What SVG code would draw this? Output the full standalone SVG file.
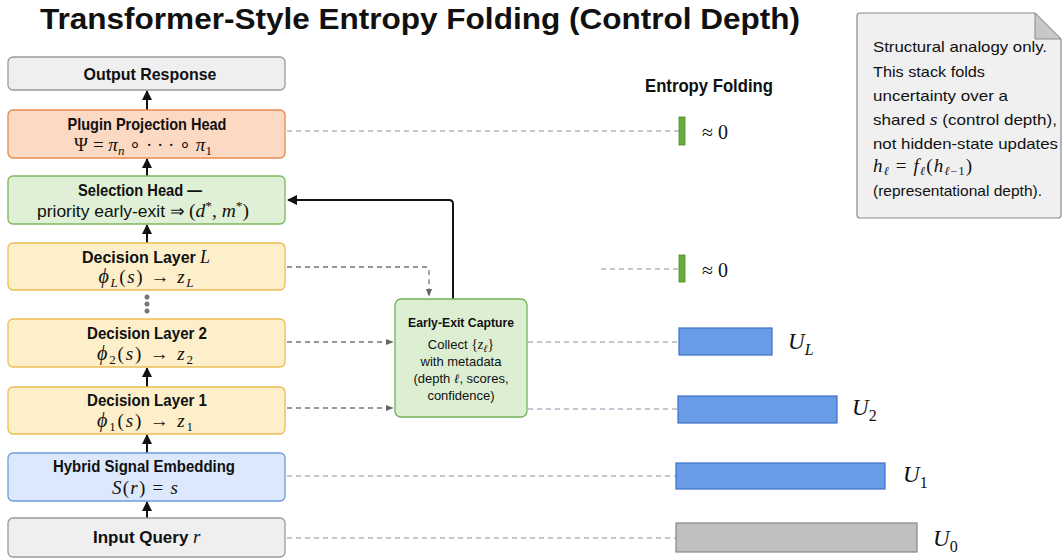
<svg xmlns="http://www.w3.org/2000/svg" width="1062" height="560" viewBox="0 0 1062 560">
<defs>
<style>
.lbl{font-family:"Liberation Sans",Arial,sans-serif;font-weight:bold;font-size:17px;fill:#111;text-anchor:middle}
.math{font-family:"Liberation Serif","Times New Roman",serif;font-size:19px;fill:#111;text-anchor:middle}
.it{font-style:italic}
.sub{font-size:13px}
.sm{font-family:"Liberation Sans",Arial,sans-serif;font-size:13px;fill:#111;text-anchor:middle}
.note{font-family:"Liberation Sans",Arial,sans-serif;font-size:14.5px;fill:#111}
.ulab{font-family:"Liberation Serif","Times New Roman",serif;font-size:23px;fill:#111;font-style:italic}
.gray{fill:#efefef;stroke:#9a9a9a;stroke-width:1.3}
.orange{fill:#fcd9c2;stroke:#e8894c;stroke-width:1.3}
.green{fill:#dff0d6;stroke:#7cb65e;stroke-width:1.3}
.yellow{fill:#fdefc9;stroke:#ecbd55;stroke-width:1.3}
.blue{fill:#dce8fb;stroke:#6f9be0;stroke-width:1.3}
.flow{stroke:#111;stroke-width:2;fill:none;marker-end:url(#ah)}
.dash{stroke:#777;stroke-width:1.3;fill:none;stroke-dasharray:5 4}
.dashb{stroke:#8a8fa6;stroke-width:1.2;fill:none;stroke-dasharray:5 4}
.gbar{fill:#6aaa3a;stroke:#4f8c2a;stroke-width:0.8}
.bbar{fill:#6a9be6;stroke:#3d6fc8;stroke-width:1.2}
.zbar{fill:#c0c0c0;stroke:#888;stroke-width:1.2}
</style>
<marker id="ah" viewBox="0 0 10 10" refX="9" refY="5" markerWidth="5" markerHeight="5" orient="auto"><path d="M0,0 L10,5 L0,10 Z" fill="#111"/></marker>
<marker id="ahg" viewBox="0 0 10 10" refX="9" refY="5" markerWidth="6" markerHeight="6" orient="auto"><path d="M0,1 L10,5 L0,9 Z" fill="#666"/></marker>
</defs>
<rect width="1062" height="560" fill="#fff"/>
<text x="40" y="29" font-family="Liberation Sans,Arial,sans-serif" font-weight="bold" font-size="30" fill="#111" textLength="760" lengthAdjust="spacingAndGlyphs">Transformer-Style Entropy Folding (Control Depth)</text>

<g id="connectors">
<line class="flow" x1="147" y1="110" x2="147" y2="91"/>
<line class="flow" x1="147" y1="176" x2="147" y2="159"/>
<line class="flow" x1="147" y1="243" x2="147" y2="225"/>
<line class="flow" x1="147" y1="387" x2="147" y2="368"/>
<line class="flow" x1="147" y1="453" x2="147" y2="435"/>
<line class="flow" x1="147" y1="518" x2="147" y2="502"/>
<path class="flow" d="M453,299 V204 Q453,200 449,200 H288"/>
<path class="dash" d="M287,267 H426 Q429,267 429,270 V296" marker-end="url(#ahg)"/>
<line class="dash" x1="287" y1="342" x2="393" y2="342" marker-end="url(#ahg)"/>
<line class="dash" x1="287" y1="408" x2="393" y2="408" marker-end="url(#ahg)"/>
<line class="dashb" x1="287" y1="131" x2="679" y2="131"/>
<line class="dashb" x1="601" y1="269" x2="679" y2="269"/>
<line class="dashb" x1="528" y1="342" x2="679" y2="342"/>
<line class="dashb" x1="528" y1="409" x2="678" y2="409"/>
<line class="dashb" x1="287" y1="476" x2="676" y2="476"/>
<line class="dashb" x1="287" y1="538" x2="676" y2="538"/>
</g>

<g id="output">
<rect class="gray" x="8" y="57" width="277" height="33" rx="5"/>
<text class="lbl" x="150" y="80" textLength="133" lengthAdjust="spacingAndGlyphs">Output Response</text>
</g>
<g id="plugin">
<rect class="orange" x="8" y="110" width="277" height="48" rx="5"/>
<text class="lbl" x="147" y="130" textLength="159" lengthAdjust="spacingAndGlyphs">Plugin Projection Head</text>
<text class="math" x="143" y="151" font-size="18">Ψ = <tspan class="it">π</tspan><tspan class="sub it" dy="4">n</tspan><tspan dy="-4"> ∘ · · · ∘ </tspan><tspan class="it">π</tspan><tspan class="sub" dy="4">1</tspan></text>
</g>
<g id="selection">
<rect class="green" x="8" y="176" width="277" height="48" rx="5"/>
<text class="lbl" x="140" y="196" textLength="124" lengthAdjust="spacingAndGlyphs">Selection Head —</text>
<text x="143" y="217" text-anchor="middle" font-size="17" fill="#111" textLength="212" lengthAdjust="spacingAndGlyphs"><tspan font-family="Liberation Sans,Arial,sans-serif">priority early-exit ⇒ </tspan><tspan font-family="Liberation Serif,serif" font-size="19"> (<tspan font-style="italic">d</tspan><tspan font-size="13" dy="-7">*</tspan><tspan dy="7">, </tspan><tspan font-style="italic">m</tspan><tspan font-size="13" dy="-7">*</tspan><tspan dy="7">)</tspan></tspan></text>
</g>
<g id="layerL">
<rect class="yellow" x="8" y="243" width="277" height="47" rx="5"/>
<text x="82" y="263" font-family="Liberation Sans,Arial,sans-serif" font-weight="bold" font-size="16" fill="#111">Decision Layer</text>
<text x="200" y="263" font-family="Liberation Serif,serif" font-style="italic" font-size="18" fill="#111">L</text>
<text class="math" x="146" y="283" textLength="95" lengthAdjust="spacing"><tspan class="it" font-size="20">ϕ</tspan><tspan class="sub it" dy="4">L</tspan><tspan dy="-4">(</tspan><tspan class="it">s</tspan>)  →  <tspan class="it">z</tspan><tspan class="sub it" dy="4">L</tspan></text>
</g>
<g id="dots" fill="#777">
<circle cx="147" cy="297" r="2.5"/>
<circle cx="147" cy="304" r="2.5"/>
<circle cx="147" cy="311" r="2.5"/>
</g>
<g id="layer2">
<rect class="yellow" x="8" y="319" width="277" height="48" rx="5"/>
<text class="lbl" x="147" y="339" textLength="120" lengthAdjust="spacingAndGlyphs">Decision Layer 2</text>
<text class="math" x="145" y="360" textLength="96" lengthAdjust="spacing"><tspan class="it" font-size="20">ϕ</tspan><tspan class="sub" dy="4">2</tspan><tspan dy="-4">(</tspan><tspan class="it">s</tspan>)  →  <tspan class="it">z</tspan><tspan class="sub" dy="4">2</tspan></text>
</g>
<g id="layer1">
<rect class="yellow" x="8" y="387" width="277" height="47" rx="5"/>
<text class="lbl" x="147" y="406" textLength="120" lengthAdjust="spacingAndGlyphs">Decision Layer 1</text>
<text class="math" x="145" y="427" textLength="96" lengthAdjust="spacing"><tspan class="it" font-size="20">ϕ</tspan><tspan class="sub" dy="4">1</tspan><tspan dy="-4">(</tspan><tspan class="it">s</tspan>)  →  <tspan class="it">z</tspan><tspan class="sub" dy="4">1</tspan></text>
</g>
<g id="embedding">
<rect class="blue" x="8" y="453" width="277" height="48" rx="5"/>
<text class="lbl" x="144" y="472" textLength="182" lengthAdjust="spacingAndGlyphs">Hybrid Signal Embedding</text>
<text class="math" x="145" y="494" font-size="20" textLength="66" lengthAdjust="spacing"><tspan class="it">S</tspan>(<tspan class="it">r</tspan>) = <tspan class="it">s</tspan></text>
</g>
<g id="input">
<rect class="gray" x="8" y="518" width="277" height="39" rx="5"/>
<text x="93" y="543" font-family="Liberation Sans,Arial,sans-serif" font-weight="bold" font-size="17" fill="#111">Input Query</text>
<text x="193" y="543" font-family="Liberation Serif,serif" font-style="italic" font-size="19" fill="#111">r</text>
</g>
<g id="earlyexit">
<rect class="green" x="395" y="299" width="132" height="118" rx="6" style="fill:#dcefd2;stroke:#74b05a"/>
<text class="sm" x="461" y="327" font-weight="bold" textLength="106" lengthAdjust="spacingAndGlyphs">Early-Exit Capture</text>
<text class="sm" x="461" y="349">Collect <tspan font-family="Liberation Serif,serif" font-size="14">{<tspan font-style="italic">z</tspan><tspan font-size="10" font-style="italic" dy="3">ℓ</tspan><tspan dy="-3">}</tspan></tspan></text>
<text class="sm" x="461" y="366">with metadata</text>
<text class="sm" x="461" y="383">(depth <tspan font-family="Liberation Serif,serif" font-style="italic">ℓ</tspan>, scores,</text>
<text class="sm" x="461" y="400">confidence)</text>
</g>
<g id="entropy">
<text x="709" y="92" text-anchor="middle" font-family="Liberation Sans,Arial,sans-serif" font-weight="bold" font-size="18" fill="#111" textLength="128" lengthAdjust="spacingAndGlyphs">Entropy Folding</text>
<rect class="gbar" x="679" y="117" width="6" height="28"/>
<text x="702" y="139" font-family="Liberation Serif,serif" font-size="20" fill="#111">≈ 0</text>
<rect class="gbar" x="679" y="255" width="6" height="27"/>
<text x="702" y="277" font-family="Liberation Serif,serif" font-size="20" fill="#111">≈ 0</text>
<rect class="bbar" x="679" y="328" width="93" height="27"/>
<text class="ulab" x="788" y="349">U<tspan font-size="16" dy="6">L</tspan></text>
<rect class="bbar" x="678" y="396" width="159" height="27"/>
<text class="ulab" x="852" y="415">U<tspan font-size="16" font-style="normal" dy="6">2</tspan></text>
<rect class="bbar" x="676" y="463" width="209" height="26"/>
<text class="ulab" x="903" y="482">U<tspan font-size="16" font-style="normal" dy="6">1</tspan></text>
<rect class="zbar" x="676" y="523" width="241" height="29"/>
<text class="ulab" x="933" y="546">U<tspan font-size="16" font-style="normal" dy="6">0</tspan></text>
</g>
<g id="note">
<path d="M860,13 H1035 L1061,39 V215 Q1061,218 1058,218 H860 Q857,218 857,215 V16 Q857,13 860,13 Z" fill="#f0f0f0" stroke="#8a8a8a" stroke-width="1.2"/>
<path d="M1035,13 L1061,39 L1035,39 Z" fill="#c8c8c8" stroke="#8a8a8a" stroke-width="1"/>
<text class="note" x="873" y="52" textLength="174" lengthAdjust="spacingAndGlyphs">Structural analogy only.</text>
<text class="note" x="873" y="77" textLength="112" lengthAdjust="spacingAndGlyphs">This stack folds</text>
<text class="note" x="873" y="101" textLength="135" lengthAdjust="spacingAndGlyphs">uncertainty over a</text>
<text class="note" x="873" y="125" textLength="184" lengthAdjust="spacingAndGlyphs">shared <tspan font-family="Liberation Serif,serif" font-style="italic" font-size="17">s</tspan> (control depth),</text>
<text class="note" x="873" y="149" textLength="185" lengthAdjust="spacingAndGlyphs">not hidden-state updates</text>
<text x="873" y="172" font-family="Liberation Serif,serif" font-size="19" fill="#111" textLength="99" lengthAdjust="spacing"><tspan font-style="italic">h</tspan><tspan font-size="12" font-style="italic" dy="3">ℓ</tspan><tspan dy="-3"> = </tspan><tspan font-style="italic">f</tspan><tspan font-size="12" font-style="italic" dy="3">ℓ</tspan><tspan dy="-3">(</tspan><tspan font-style="italic">h</tspan><tspan font-size="12" dy="3"><tspan font-style="italic">ℓ</tspan>−1</tspan><tspan dy="-3">)</tspan></text>
<text class="note" x="873" y="196" textLength="169" lengthAdjust="spacingAndGlyphs">(representational depth).</text>
</g>
</svg>
